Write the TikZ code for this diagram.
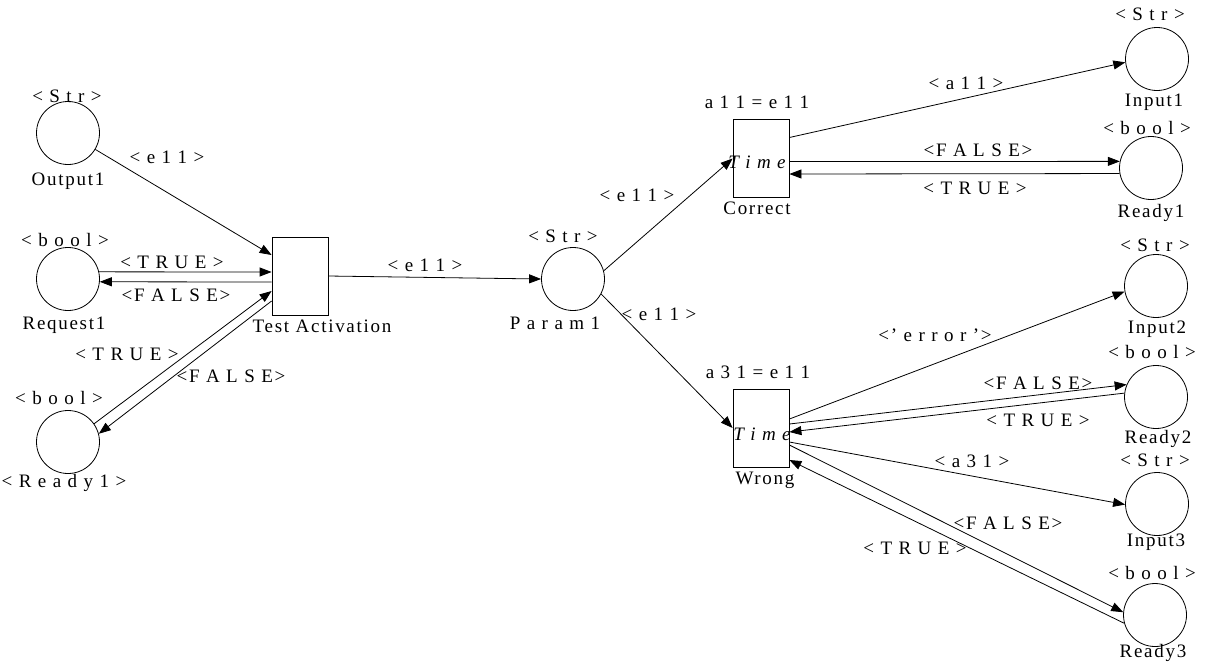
\documentclass[tikz,border=0pt]{standalone}
\usepackage{fontspec}
\setmainfont{Liberation Serif}[LetterSpace=9]
\usetikzlibrary{arrows.meta}
\begin{document}
\begin{tikzpicture}[x=1pt,y=-1pt,
  place/.style={circle,draw,line width=0.8pt,minimum size=63pt,inner sep=0pt},
  trans/.style={rectangle,draw,line width=0.8pt,minimum width=56pt,minimum height=78pt,inner sep=0pt},
  lab/.style={font=\fontsize{19}{19}\selectfont,inner sep=0pt,text height=12.6pt,text depth=0pt},
  arc/.style={line width=0.8pt,-{Triangle[length=12pt,width=9pt]}}]
\useasboundingbox (0,0) rectangle (1206,665);
% places
\node[place] (out1) at (68,133) {};
\node[place] (req1) at (68,279) {};
\node[place] (rdyL) at (68,442) {};
\node[place] (par) at (573,279) {};
\node[place] (in1) at (1157,59) {};
\node[place] (rdy1) at (1151,168) {};
\node[place] (in2) at (1156,286) {};
\node[place] (rdy2) at (1156,397) {};
\node[place] (in3) at (1157,504) {};
\node[place] (rdy3) at (1155,615) {};
% transitions
\node[trans] (ta) at (300,276) {};
\node[trans] (cor) at (761,158.5) {};
\node[trans] (wro) at (761,428) {};
\node[lab,font=\fontsize{19}{19}\selectfont\itshape] (cort) at (757,162) {T i m e};
\node[lab,font=\fontsize{19}{19}\selectfont\itshape] (wrot) at (762,434) {T i m e};
% place labels
\node[lab] (l1) at (67,96) {< S t r >};
\node[lab] (l2) at (68,179) {Output1};
\node[lab] (l3) at (65,240) {< b o o l >};
\node[lab] (l4) at (64,323) {Request1};
\node[lab] (l5) at (59,398) {< b o o l >};
\node[lab] (l6) at (64,481) {< R e a d y 1 >};
\node[lab] (l7) at (563,236) {< S t r >};
\node[lab] (l8) at (555,323) {P a r a m 1};
\node[lab] (l9) at (1150,14) {< S t r >};
\node[lab] (l10) at (1154,100) {Input1};
\node[lab] (l11) at (1147,128) {< b o o l >};
\node[lab] (l12) at (1151,211) {Ready1};
\node[lab] (l13) at (1155,245) {< S t r >};
\node[lab] (l14) at (1157,327) {Input2};
\node[lab] (l15) at (1152,352) {< b o o l >};
\node[lab] (l16) at (1158,437) {Ready2};
\node[lab] (l17) at (1155,460) {< S t r >};
\node[lab] (l18) at (1156,540) {Input3};
\node[lab] (l19) at (1152,573) {< b o o l >};
\node[lab] (l20) at (1153,651) {Ready3};
% transition labels
\node[lab] (t1) at (322,326) {Test Activation};
\node[lab] (t2) at (757,102) {a 1 1 = e 1 1};
\node[lab] (t3) at (757,208) {Correct};
\node[lab] (t4) at (758,372) {a 3 1 = e 1 1};
\node[lab] (t5) at (765,478) {Wrong};
% arcs
\draw[arc] (out1.-31) -- ([yshift=21pt]ta.west);
\draw[arc] (req1.13) -- ([yshift=4pt]ta.west);
\draw[arc] ([yshift=-6pt]ta.west) -- (req1.-5);
\draw[arc] (rdyL.35) -- ([yshift=-15pt]ta.west);
\draw[arc] ([yshift=-25pt]ta.west) -- (rdyL.15);
\draw[arc] (ta.east) -- (par.west);
\draw[arc] (par.15) -- (cor.west);
\draw[arc] (par.-28) -- (wro.west);
\draw[arc] ([yshift=21pt]cor.east) -- (in1.186);
\draw[arc] ([yshift=-3pt]cor.east) -- (rdy1.168);
\draw[arc] (rdy1.190) -- ([yshift=-15.5pt]cor.east);
\draw[arc] ([yshift=9pt]wro.east) -- (in2.190);
\draw[arc] ([yshift=4pt]wro.east) -- (rdy2.157);
\draw[arc] (rdy2.173) -- ([yshift=-4pt]wro.east);
\draw[arc] ([yshift=-14pt]wro.east) -- (in3.181);
\draw[arc] ([yshift=-17pt]wro.east) -- (rdy3.175);
\draw[arc] (rdy3.195) -- ([yshift=-32pt]wro.east);
% arc labels
\node[lab] (a1) at (167,157) {< e 1 1 >};
\node[lab] (a2) at (172,262) {< T R U E >};
\node[lab] (a3) at (176,295) {<F A L S E>};
\node[lab] (a4) at (127,354) {< T R U E >};
\node[lab] (a5) at (231,376) {<F A L S E>};
\node[lab] (a6) at (425,265) {< e 1 1 >};
\node[lab] (a7) at (637,195) {< e 1 1 >};
\node[lab] (a8) at (659,314) {< e 1 1 >};
\node[lab] (a9) at (966,83) {< a 1 1 >};
\node[lab] (a10) at (978,150) {<F A L S E>};
\node[lab] (a11) at (975,188) {< T R U E >};
\node[lab] (a12) at (935,335) {<’ e r r o r ’>};
\node[lab] (a13) at (1038,383) {<F A L S E>};
\node[lab] (a14) at (1038,420) {< T R U E >};
\node[lab] (a15) at (972,461) {< a 3 1 >};
\node[lab] (a16) at (1008,523) {<F A L S E>};
\node[lab] (a17) at (915,548) {< T R U E >};
\end{tikzpicture}
\end{document}
